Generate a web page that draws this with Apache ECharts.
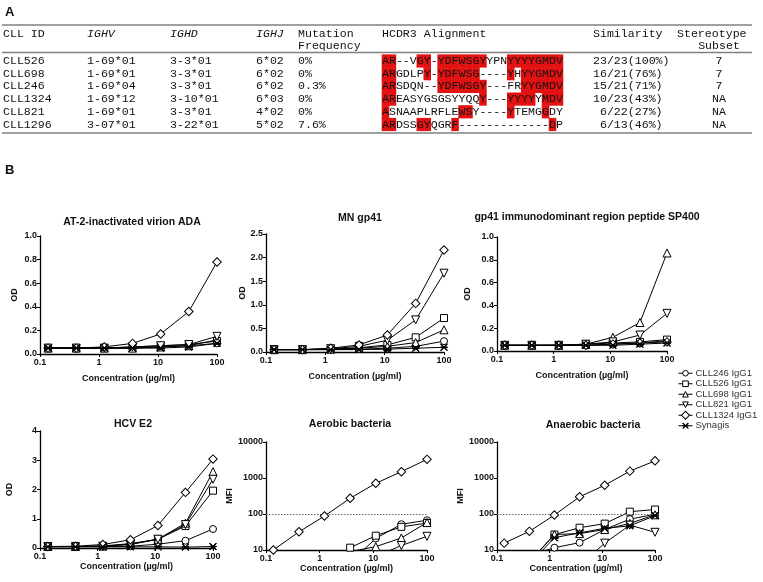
<!DOCTYPE html>
<html><head><meta charset="utf-8">
<script src="https://cdn.jsdelivr.net/npm/echarts@6/dist/echarts.min.js"></script>
<style>html,body{margin:0;padding:0;background:#fff}#c{width:763px;height:582px}</style>
</head><body><div id="c"></div>
<script>
// ---------- Panel A table data ----------
const tableHeader1 = ['CLL ID', 'IGHV', 'IGHD', 'IGHJ', 'Mutation', 'HCDR3 Alignment', 'Similarity', 'Stereotype'];
const tableHeader2 = ['', '', '', '', 'Frequency', '', '', 'Subset'];
const cllIds = ['CLL526', 'CLL698', 'CLL246', 'CLL1324', 'CLL821', 'CLL1296'];
const ighv = ['1-69*01', '1-69*01', '1-69*04', '1-69*12', '1-69*01', '3-07*01'];
const ighd = ['3-3*01', '3-3*01', '3-3*01', '3-10*01', '3-3*01', '3-22*01'];
const ighj = ['6*02', '6*02', '6*02', '6*03', '4*02', '5*02'];
const mutFreq = ['0%', '0%', '0.3%', '0%', '0%', '7.6%'];
const hcdr3 = ['AR--VGY-YDFWSGYYPNYYYYGMDV', 'ARGDLPY-YDFWSG----YHYYGMDV', 'ARSDQN--YDFWSGY---FRYYGMDV',
  'AREASYGSGSYYQQY---YYYYYMDV', 'ASNAAPLRFLEWSY----YTEMGGDY', 'ARDSSGYQGRF-------------DP'];
const hcdr3Red = ['11000110111111100011111111', '11000010111111000010111111', '11000000111111100000111111',
  '11000000000000100011110111', '10000000000110000010000100', '11000110001000000000000010'];
const similarity = ['23/23(100%)', '16/21(76%)', '15/21(71%)', '10/23(43%)', ' 6/22(27%)', ' 6/13(46%)'];
const subset = ['7', '7', '7', 'NA', 'NA', 'NA'];

// ---------- Panel B data ----------
const conc = [0.137, 0.412, 1.23, 3.7, 11.1, 33.3, 100];
const seriesNames = ['CLL246 IgG1', 'CLL526 IgG1', 'CLL698 IgG1', 'CLL821 IgG1', 'CLL1324 IgG1', 'Synagis'];
const panelTitles = ['AT-2-inactivated virion ADA', 'MN gp41', 'gp41 immunodominant region peptide SP400', 'HCV E2', 'Aerobic bacteria', 'Anaerobic bacteria'];
// rows follow seriesNames order
const adaOD = [
  [0.05, 0.05, 0.05, 0.05, 0.06, 0.07, 0.09],
  [0.05, 0.05, 0.05, 0.06, 0.07, 0.08, 0.11],
  [0.05, 0.05, 0.05, 0.05, 0.06, 0.07, 0.12],
  [0.05, 0.05, 0.05, 0.06, 0.07, 0.08, 0.15],
  [0.05, 0.05, 0.06, 0.09, 0.17, 0.36, 0.78],
  [0.05, 0.05, 0.05, 0.05, 0.05, 0.06, 0.09]];
const gp41OD = [
  [0.05, 0.05, 0.05, 0.06, 0.08, 0.12, 0.23],
  [0.05, 0.05, 0.06, 0.09, 0.15, 0.31, 0.72],
  [0.05, 0.05, 0.06, 0.08, 0.12, 0.20, 0.47],
  [0.05, 0.05, 0.07, 0.12, 0.25, 0.68, 1.67],
  [0.05, 0.05, 0.08, 0.15, 0.36, 1.03, 2.16],
  [0.05, 0.05, 0.05, 0.05, 0.06, 0.08, 0.10]];
const sp400OD = [
  [0.05, 0.05, 0.05, 0.05, 0.06, 0.07, 0.09],
  [0.05, 0.05, 0.05, 0.06, 0.07, 0.08, 0.10],
  [0.05, 0.05, 0.05, 0.06, 0.12, 0.25, 0.86],
  [0.05, 0.05, 0.05, 0.06, 0.08, 0.14, 0.33],
  [0.05, 0.05, 0.05, 0.05, 0.06, 0.07, 0.08],
  [0.05, 0.05, 0.05, 0.05, 0.05, 0.06, 0.07]];
const hcvOD = [
  [0.05, 0.05, 0.05, 0.06, 0.13, 0.25, 0.65],
  [0.05, 0.05, 0.06, 0.12, 0.30, 0.75, 1.96],
  [0.05, 0.05, 0.07, 0.15, 0.30, 0.85, 2.61],
  [0.05, 0.05, 0.06, 0.13, 0.30, 0.80, 2.35],
  [0.05, 0.06, 0.12, 0.28, 0.77, 1.90, 3.04],
  [0.04, 0.04, 0.04, 0.04, 0.04, 0.03, 0.05]];
const aerobicMFI = [
  [2, 2, 3, 4.5, 21, 52, 67],
  [2, 2, 2, 11.6, 25, 44, 56],
  [2, 2, 2, 9, 12.4, 21.6, 58],
  [2, 2, 2, 2, 6.6, 13.3, 24],
  [10, 32, 88, 273, 713, 1496, 3300],
  [2, 2, 2, 2, 2, 3, 5]];
const anaerobicMFI = [
  [2, 7, 11.6, 16, 37, 72, 98],
  [2, 4.8, 26.8, 41.6, 54, 116, 133],
  [2, 4.5, 27, 28.6, 37, 55, 95],
  [2, 2, 2, 3.7, 15.5, 49, 31],
  [15.5, 33, 93.5, 300, 630, 1550, 3000],
  [2, 4, 22, 30, 40, 47, 90]];
const odTicks1 = [0, 0.2, 0.4, 0.6, 0.8, 1.0];
const odTicks2 = [0, 0.5, 1.0, 1.5, 2.0, 2.5];
const odTicks4 = [0, 1, 2, 3, 4];
const mfiRange = [10, 10000];
const concRange = [0.1, 100];

// ---------- layout ----------
const panelData = [adaOD, gp41OD, sp400OD, hcvOD, aerobicMFI, anaerobicMFI];
const grids = [
  {left: 40, top: 236, width: 177, height: 118},
  {left: 266, top: 234, width: 178, height: 118},
  {left: 497, top: 237, width: 170, height: 114},
  {left: 40, top: 431, width: 173, height: 117},
  {left: 266, top: 442, width: 161, height: 108},
  {left: 497, top: 442, width: 158, height: 108}
];
const titlePos = [[127, 212], [355, 208], [582, 207], [128, 414], [345, 414], [588, 415]];
const yNames = ['OD', 'OD', 'OD', 'OD', 'MFI', 'MFI'];
const yNameGap = [21, 14, 25, 26, 22, 25];
const xNameGap = [20, 20, 20, 13, 13, 13];
const yTicks = [odTicks1, odTicks2, odTicks1, odTicks4, null, null];

const boldFont = {fontFamily: 'Liberation Sans', fontWeight: 'bold', fontSize: 9, color: '#111'};
const xPath = 'path://M0,0.7 L0.7,0 L5,4.3 L9.3,0 L10,0.7 L5.7,5 L10,9.3 L9.3,10 L5,5.7 L0.7,10 L0,9.3 L4.3,5 Z M0,4.6 L10,4.6 L10,5.4 L0,5.4 Z';
const symbols = [
  {symbol: 'circle', symbolSize: 7, symbolRotate: 0},
  {symbol: 'rect', symbolSize: 7, symbolRotate: 0},
  {symbol: 'triangle', symbolSize: 8, symbolRotate: 0},
  {symbol: 'triangle', symbolSize: 8, symbolRotate: 180},
  {symbol: 'rect', symbolSize: 6, symbolRotate: 45},
  {symbol: xPath, symbolSize: 7, symbolRotate: 0}
];

const xAxes = [], yAxes = [], series = [], titles = [];
grids.forEach((g, i) => {
  titles.push({text: panelTitles[i], left: titlePos[i][0], top: titlePos[i][1], textAlign: 'center',
    textStyle: {fontFamily: 'Liberation Sans', fontWeight: 'bold', fontSize: 10.5, color: '#111'}});
  xAxes.push({type: 'log', logBase: 10, gridIndex: i, min: concRange[0], max: concRange[1],
    name: 'Concentration (\u00b5g/ml)', nameLocation: 'middle', nameGap: xNameGap[i], nameTextStyle: boldFont,
    axisLine: {lineStyle: {color: '#000', width: 1.3}}, axisTick: {length: 3, lineStyle: {color: '#000'}},
    axisLabel: Object.assign({margin: 4, formatter: v => String(v)}, boldFont), splitLine: {show: false}, minorTick: {show: false}});
  const isLog = i >= 4;
  const yt = yTicks[i];
  const y = {gridIndex: i, name: yNames[i], nameLocation: 'middle', nameGap: yNameGap[i], nameTextStyle: boldFont,
    axisLine: {show: true, lineStyle: {color: '#000', width: 1.3}}, axisTick: {show: true, length: 3, lineStyle: {color: '#000'}},
    axisLabel: Object.assign({margin: 3}, boldFont), splitLine: {show: false}};
  if (isLog) {
    Object.assign(y, {type: 'log', logBase: 10, min: mfiRange[0], max: mfiRange[1]});
    y.axisLabel.formatter = v => String(Math.round(v));
  } else {
    const step = yt[1] - yt[0];
    Object.assign(y, {type: 'value', min: yt[0], max: yt[yt.length - 1], interval: step});
    y.axisLabel.formatter = v => (i === 3 ? String(Math.round(v)) : v.toFixed(1));
  }
  yAxes.push(y);
  panelData[i].forEach((vals, s) => {
    const sym = symbols[s];
    const ser = {type: 'line', name: seriesNames[s], xAxisIndex: i, yAxisIndex: i, clip: true,
      data: vals.map((v, k) => [conc[k], v]),
      symbol: sym.symbol, symbolSize: sym.symbolSize, symbolRotate: sym.symbolRotate, showAllSymbol: true,
      lineStyle: {color: '#000', width: 1},
      itemStyle: {color: s === 5 ? '#000' : '#fff', borderColor: '#000', borderWidth: 1},
      emphasis: {disabled: true}, z: 2 + s};
    if (isLog && s === 0) {
      ser.markLine = {silent: true, symbol: 'none', label: {show: false},
        lineStyle: {color: '#666', type: [1.5, 1.5], width: 1}, data: [{yAxis: 100}]};
    }
    series.push(ser);
  });
});

// ---------- table graphics ----------
const graphic = [];
const mono = '11.6px "Liberation Mono"';
const monoItalic = 'italic 11.6px "Liberation Mono"';
const cw = 6.96;
const colX = [3, 87, 170, 256, 298, 382, 593, 677];
const rowY = [61, 73.7, 86.4, 99.1, 111.8, 124.5];
function txt(x, y, t, font, align) {
  graphic.push({type: 'text', x: x, y: y, z: 10, silent: true,
    style: {text: t, font: font, fill: '#111', textAlign: align || 'left', textVerticalAlign: 'middle'}});
}
function hline(y) {
  graphic.push({type: 'line', silent: true, z: 9, shape: {x1: 2, y1: y, x2: 752, y2: y}, style: {stroke: '#808080', lineWidth: 1.5}});
}
graphic.push({type: 'text', x: 5, y: 12, silent: true, style: {text: 'A', font: 'bold 13px "Liberation Sans"', fill: '#111', textVerticalAlign: 'middle'}});
graphic.push({type: 'text', x: 5, y: 170, silent: true, style: {text: 'B', font: 'bold 13px "Liberation Sans"', fill: '#111', textVerticalAlign: 'middle'}});
hline(25); hline(52.5); hline(133);
tableHeader1.forEach((h, c) => txt(colX[c], 33.5, h, (c >= 1 && c <= 3) ? monoItalic : mono));
tableHeader2.forEach((h, c) => { if (h) txt(c === 7 ? 719 : colX[c], 46, h, mono, c === 7 ? 'center' : 'left'); });
cllIds.forEach((id, r) => {
  const y = rowY[r];
  for (let k = 0; k < hcdr3Red[r].length; k++) {
    if (hcdr3Red[r][k] === '1') {
      graphic.push({type: 'rect', silent: true, z: 5, shape: {x: colX[5] + k * cw - 0.3, y: y - 6.6, width: cw + 0.6, height: 13.2},
        style: {fill: '#e31212'}});
    }
  }
  txt(colX[0], y, id, mono);
  txt(colX[1], y, ighv[r], mono);
  txt(colX[2], y, ighd[r], mono);
  txt(colX[3], y, ighj[r], mono);
  txt(colX[4], y, mutFreq[r], mono);
  txt(colX[5], y, hcdr3[r], mono);
  txt(colX[6], y, similarity[r], mono);
  txt(719, y, subset[r], mono, 'center');
});

const legendData = seriesNames.map((n, s) => ({
  name: n,
  itemStyle: {color: s === 5 ? '#000' : '#fff', borderColor: '#000', borderWidth: 1},
  lineStyle: {color: '#000', width: 1}
}));

const chart = echarts.init(document.getElementById('c'), null, {renderer: 'canvas'});
chart.setOption({
  animation: false,
  backgroundColor: '#fff',
  title: titles,
  grid: grids,
  xAxis: xAxes,
  yAxis: yAxes,
  legend: {data: legendData, orient: 'vertical', left: 678, top: 368, itemWidth: 14, itemHeight: 7, itemGap: 0,
    padding: 0, selectedMode: false,
    textStyle: {fontFamily: 'Liberation Sans', fontSize: 9.5, lineHeight: 10.5, color: '#333', padding: [0, 0, 0, -2]}},
  series: series,
  graphic: graphic
});
</script>
</body></html>
